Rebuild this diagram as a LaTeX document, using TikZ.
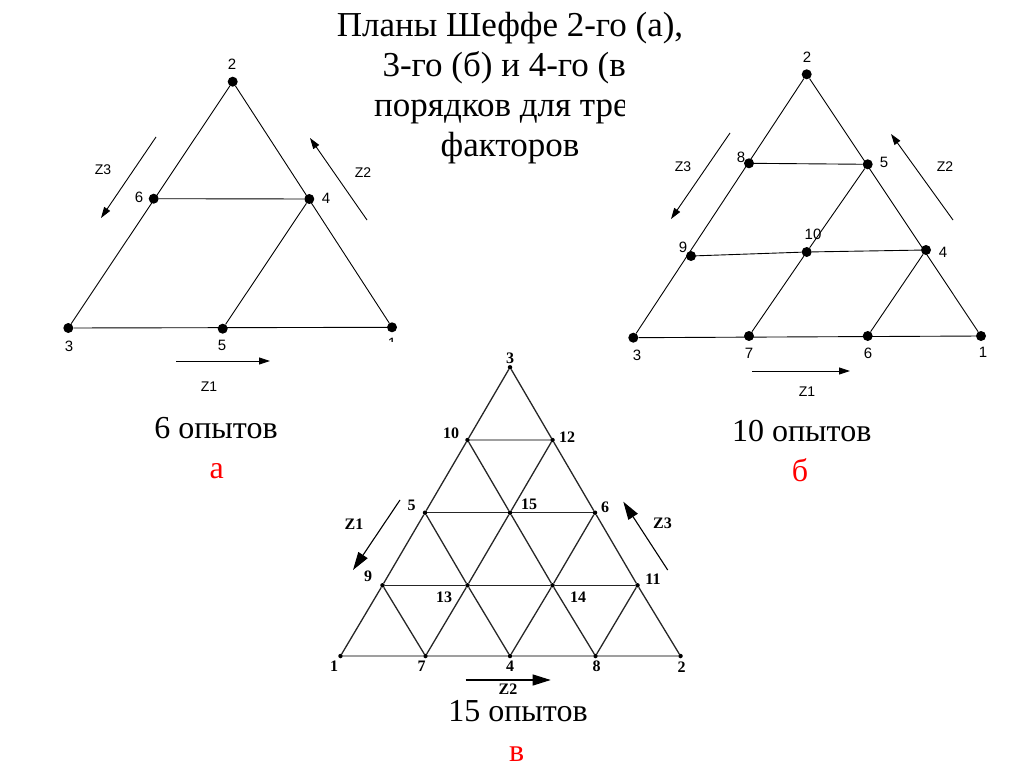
\documentclass[tikz,border=0pt]{standalone}
\usepackage{fontspec}
\setmainfont{Liberation Serif}
\setsansfont{Liberation Sans}
\usetikzlibrary{arrows.meta}

\newcommand{\fsz}[2]{\fontsize{#1}{#2}\selectfont}

\begin{document}
\begin{tikzpicture}[x=1pt, y=-1pt,
    >={Triangle[length=11pt, width=7pt]},
    edgeA/.style={line width=0.9pt},
    edgeC/.style={line width=1.3pt, black!85},
    edgeG/.style={line width=2.2pt, gray!75},
    dotA/.style={circle, fill, inner sep=0pt, minimum size=10pt},
    dotC/.style={circle, fill, inner sep=0pt, minimum size=4.5pt},
    numA/.style={font=\sffamily\fsz{15}{15}, inner sep=0pt},
    zA/.style={font=\sffamily\fsz{14}{14}, inner sep=0pt},
    numC/.style={font=\bfseries\fsz{16}{16}, inner sep=0pt},
    arrC/.style={line width=1.1pt, -{Triangle[length=18pt, width=11pt]}},
    caption/.style={font=\fsz{32}{32}, inner sep=0pt, anchor=base},
    letter/.style={caption, text=red}]

    \useasboundingbox (0,0) rectangle (1024,767);

    % -------------------------------------------------------------
    % TITLE
    % -------------------------------------------------------------
    \node[font=\fsz{35}{40.2}, align=center, inner sep=0pt, anchor=base] (title) at (510,156.7)
        {Планы Шеффе 2-го (а),\\3-го (б) и 4-го (в)\\порядков для трех\\факторов};

    % -------------------------------------------------------------
    % LEFT: 2nd ORDER (6 runs)
    % -------------------------------------------------------------
    \node[dotA] (a1) at (392,327.3) {};
    \node[dotA] (a2) at (232.7,81.7) {};
    \node[dotA] (a3) at (68.3,328) {};
    \node[dotA] (a4) at (309.3,199) {};
    \node[dotA] (a5) at (222.7,328.7) {};
    \node[dotA] (a6) at (153.7,198.7) {};

    \draw[edgeA] (a3) -- (a2) -- (a1) -- (a3);
    \draw[edgeA] (a6) -- (a4) -- (a5);

    \node[numA] (la2) at (232,64) {2};
    \node[numA] (la6) at (139,197) {6};
    \node[numA] (la4) at (326,198) {4};
    \node[numA] (la3) at (69,346) {3};
    \node[numA] (la5) at (222,345) {5};
    \node[numA] (la1) at (392,343) {1};

    % factor arrows
    \coordinate (a3s) at (156,137);  \coordinate (a3e) at (101,218);
    \coordinate (a2s) at (367,220);  \coordinate (a2e) at (310,138);
    \coordinate (a1s) at (176,361);  \coordinate (a1e) at (270,361);
    \draw[edgeA, ->] (a3s) -- (a3e);
    \draw[edgeA, ->] (a2s) -- (a2e);
    \draw[edgeA, ->] (a1s) -- (a1e);
    \node[zA] (za3) at (103,170) {Z3};
    \node[zA] (za2) at (363,173) {Z2};
    \node[zA] (za1) at (209,387) {Z1};

    % white patch over the foot of label 1
    \fill[white] (308,342) rectangle (420,400);

    \node[caption] (capa) at (216,438.3) {6 опытов};
    \node[letter] (leta) at (216.7,478) {а};

    % -------------------------------------------------------------
    % RIGHT: 3rd ORDER (10 runs)
    % -------------------------------------------------------------
    \fill[white] (625,48) rectangle (1024,400);

    \node[dotA] (b1) at (981,336) {};
    \node[dotA] (b2) at (806.7,74.3) {};
    \node[dotA] (b3) at (633.3,337.7) {};
    \node[dotA] (b4) at (926,250) {};
    \node[dotA] (b5) at (867.7,164.3) {};
    \node[dotA] (b6) at (867.7,336) {};
    \node[dotA] (b7) at (749,336) {};
    \node[dotA] (b8) at (749,163.3) {};
    \node[dotA] (b9) at (691,256) {};
    \node[dotA] (b10) at (806.7,252) {};

    \draw[edgeA] (b3) -- (b2) -- (b1) -- (b3);
    \draw[edgeA] (b8) -- (b5);
    \draw[edgeA] (b9) -- (b10) -- (b4);
    \draw[edgeA] (b7) -- (b10) -- (b5);
    \draw[edgeA] (b6) -- (b4);

    \node[numA] (lb2) at (807,57) {2};
    \node[numA] (lb8) at (741,157) {8};
    \node[numA] (lb5) at (884,162) {5};
    \node[numA] (lb9) at (683,247) {9};
    \node[numA] (lb10) at (813,234) {10};
    \node[numA] (lb4) at (943,252) {4};
    \node[numA] (lb3) at (637,355) {3};
    \node[numA] (lb7) at (749,353) {7};
    \node[numA] (lb6) at (868,353) {6};
    \node[numA] (lb1) at (983,352) {1};

    \coordinate (b3s) at (730,133);  \coordinate (b3e) at (671,219);
    \coordinate (b2s) at (953,220);  \coordinate (b2e) at (891,134);
    \coordinate (b1s) at (752,371);  \coordinate (b1e) at (850,371);
    \draw[edgeA, ->] (b3s) -- (b3e);
    \draw[edgeA, ->] (b2s) -- (b2e);
    \draw[edgeA, ->] (b1s) -- (b1e);
    \node[zA] (zb3) at (683,167) {Z3};
    \node[zA] (zb2) at (945,167) {Z2};
    \node[zA] (zb1) at (807,392) {Z1};

    \node[caption] (capb) at (801.7,441.7) {10 опытов};
    \node[letter] (letb) at (800,481.7) {б};

    % -------------------------------------------------------------
    % BOTTOM: 4th ORDER (15 runs)
    % -------------------------------------------------------------
    \node[dotC] (c3) at (510,367.3) {};
    \node[dotC] (c10) at (467.5,440) {};
    \node[dotC] (c12) at (552.5,440) {};
    \node[dotC] (c5) at (425,512.7) {};
    \node[dotC] (c15) at (510,512.7) {};
    \node[dotC] (c6) at (595,512.7) {};
    \node[dotC] (c9) at (382.5,585.3) {};
    \node[dotC] (c13) at (467.5,585.3) {};
    \node[dotC] (c14) at (552.5,585.3) {};
    \node[dotC] (c11) at (637.5,585.3) {};
    \node[dotC] (c1) at (340.5,656) {};
    \node[dotC] (c7) at (425.5,656) {};
    \node[dotC] (c4) at (510,656) {};
    \node[dotC] (c8) at (595.5,656) {};
    \node[dotC] (c2) at (680.5,656) {};

    % horizontal rows
    \draw[edgeG] (c10) -- (c12);
    \draw[edgeC] (c5) -- (c15) -- (c6);
    \draw[edgeC] (c9) -- (c13) -- (c14) -- (c11);
    \draw[edgeG] (c1) -- (c7) -- (c4) -- (c8) -- (c2);
    % rising to the right
    \draw[edgeC] (c1) -- (c9) -- (c5) -- (c10) -- (c3);
    \draw[edgeC] (c7) -- (c13) -- (c15) -- (c12);
    \draw[edgeC] (c4) -- (c14) -- (c6);
    \draw[edgeC] (c8) -- (c11);
    % rising to the left
    \draw[edgeC] (c2) -- (c11) -- (c6) -- (c12) -- (c3);
    \draw[edgeC] (c8) -- (c14) -- (c15) -- (c10);
    \draw[edgeC] (c4) -- (c13) -- (c5);
    \draw[edgeC] (c7) -- (c9);

    \node[numC] (lc3) at (510,358) {3};
    \node[numC] (lc10) at (451,433) {10};
    \node[numC] (lc12) at (567,437) {12};
    \node[numC] (lc5) at (411.5,505) {5};
    \node[numC] (lc15) at (529,504) {15};
    \node[numC] (lc6) at (605,507) {6};
    \node[numC] (lc9) at (368,576) {9};
    \node[numC] (lc13) at (444,597.5) {13};
    \node[numC] (lc14) at (578,597.5) {14};
    \node[numC] (lc11) at (653,579) {11};
    \node[numC] (lc1) at (334,666.7) {1};
    \node[numC] (lc7) at (421.7,666.7) {7};
    \node[numC] (lc4) at (510,666.7) {4};
    \node[numC] (lc8) at (596.7,666.7) {8};
    \node[numC] (lc2) at (681.7,666.7) {2};

    \coordinate (c1s) at (400,500);    \coordinate (c1e) at (353,570);
    \coordinate (c3s) at (667.7,570);  \coordinate (c3e) at (623.3,501.7);
    \coordinate (c2s) at (465.7,680);  \coordinate (c2e) at (550.7,680);
    \draw[arrC] (c1s) -- (c1e);
    \draw[arrC] (c3s) -- (c3e);
    \draw[arrC] (c2s) -- (c2e);
    \node[numC] (zc1) at (354,524) {Z1};
    \node[numC] (zc3) at (662.5,523) {Z3};
    \node[numC] (zc2) at (508,689) {Z2};

    \node[caption] (capc) at (518,721.7) {15 опытов};
    \node[letter] (letc) at (516.7,761.7) {в};

\end{tikzpicture}
\end{document}
